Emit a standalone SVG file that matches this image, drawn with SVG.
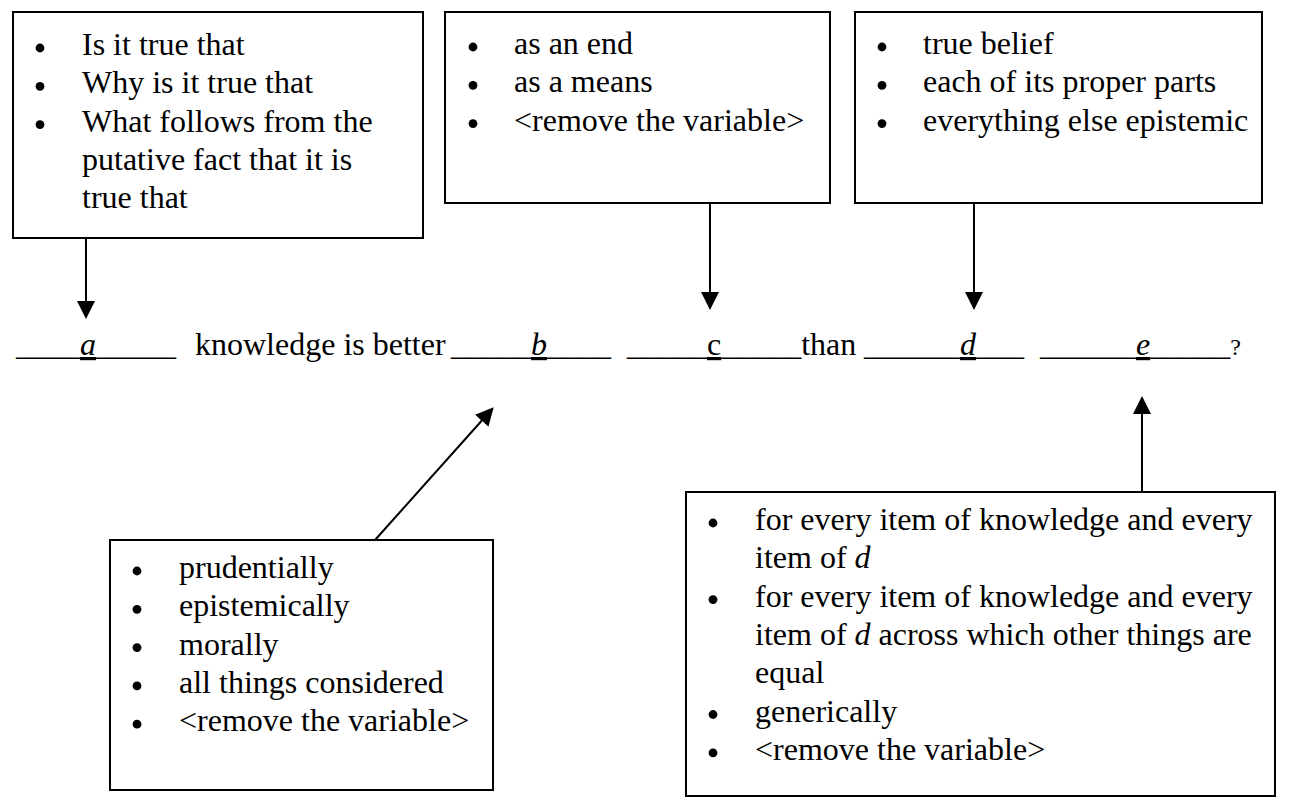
<svg xmlns="http://www.w3.org/2000/svg" width="1291" height="804" viewBox="0 0 1291 804">
<defs>
<style>
text{font-family:"Liberation Serif","Times New Roman",serif;font-size:32px;fill:#000}
.box{fill:#fff;stroke:#000;stroke-width:2}
.conn{stroke:#000;stroke-width:2;fill:none;marker-end:url(#ah)}
.bul{fill:#000}
.it{font-style:italic}
.ul{text-decoration:underline}
</style>
<marker id="ah" markerUnits="userSpaceOnUse" markerWidth="18" markerHeight="18" viewBox="0 0 16 16" refX="8" refY="8" orient="auto">
<path d="M0,0 L16,8 L0,16 z" fill="#000"/>
</marker>
</defs>
<rect width="1291" height="804" fill="#fff"/>

<g id="connectors">
<line class="conn" x1="86" y1="238" x2="86" y2="310"/>
<line class="conn" x1="710" y1="203" x2="710" y2="301"/>
<line class="conn" x1="974" y1="203" x2="974" y2="301"/>
<line class="conn" x1="375" y1="540" x2="487.7" y2="414"/>
<line class="conn" x1="1142" y1="492" x2="1142" y2="405"/>
</g>

<g id="box-a">
<rect class="box" x="13" y="12" width="410" height="226"/>
<circle class="bul" cx="40" cy="48" r="4.4"/><text x="82" y="55">Is it true that</text>
<circle class="bul" cx="40" cy="86.3" r="4.4"/><text x="82" y="93.3">Why is it true that</text>
<circle class="bul" cx="40" cy="124.6" r="4.4"/><text x="82" y="131.6">What follows from the</text>
<text x="82" y="169.9">putative fact that it is</text>
<text x="82" y="208.2">true that</text>
</g>

<g id="box-c">
<rect class="box" x="445" y="12" width="385" height="191"/>
<circle class="bul" cx="473" cy="47" r="4.4"/><text x="514" y="54">as an end</text>
<circle class="bul" cx="473" cy="85.3" r="4.4"/><text x="514" y="92.3">as a means</text>
<circle class="bul" cx="473" cy="123.6" r="4.4"/><text x="514" y="130.6">&lt;remove the variable&gt;</text>
</g>

<g id="box-d">
<rect class="box" x="855" y="12" width="407" height="191"/>
<circle class="bul" cx="882" cy="47" r="4.4"/><text x="923" y="54">true belief</text>
<circle class="bul" cx="882" cy="85.3" r="4.4"/><text x="923" y="92.3">each of its proper parts</text>
<circle class="bul" cx="882" cy="123.6" r="4.4"/><text x="923" y="130.6">everything else epistemic</text>
</g>

<g id="sentence">
<text y="355"><tspan x="16">____</tspan><tspan class="it ul">a</tspan><tspan>_____</tspan><tspan x="195">knowledge is better</tspan><tspan x="451">_____</tspan><tspan class="it ul">b</tspan><tspan>____</tspan><tspan x="627">_____</tspan><tspan class="ul">c</tspan><tspan>_____than</tspan><tspan x="864">______</tspan><tspan class="it ul">d</tspan><tspan>___</tspan><tspan x="1040">______</tspan><tspan class="it ul">e</tspan><tspan>_____</tspan><tspan font-size="24">?</tspan></text>
</g>

<g id="box-b">
<rect class="box" x="110" y="540" width="383" height="250"/>
<circle class="bul" cx="137" cy="571" r="4.4"/><text x="179" y="578">prudentially</text>
<circle class="bul" cx="137" cy="609.3" r="4.4"/><text x="179" y="616.3">epistemically</text>
<circle class="bul" cx="137" cy="647.6" r="4.4"/><text x="179" y="654.6">morally</text>
<circle class="bul" cx="137" cy="685.9" r="4.4"/><text x="179" y="692.9">all things considered</text>
<circle class="bul" cx="137" cy="724.2" r="4.4"/><text x="179" y="731.2">&lt;remove the variable&gt;</text>
</g>

<g id="box-e">
<rect class="box" x="686" y="492" width="589" height="304"/>
<circle class="bul" cx="713" cy="523" r="4.4"/><text x="755" y="530">for every item of knowledge and every</text>
<text x="755" y="568.3">item of <tspan class="it">d</tspan></text>
<circle class="bul" cx="713" cy="599.6" r="4.4"/><text x="755" y="606.6">for every item of knowledge and every</text>
<text x="755" y="644.9">item of <tspan class="it">d</tspan> across which other things are</text>
<text x="755" y="683.2">equal</text>
<circle class="bul" cx="713" cy="714.5" r="4.4"/><text x="755" y="721.5">generically</text>
<circle class="bul" cx="713" cy="752.8" r="4.4"/><text x="755" y="759.8">&lt;remove the variable&gt;</text>
</g>
</svg>
